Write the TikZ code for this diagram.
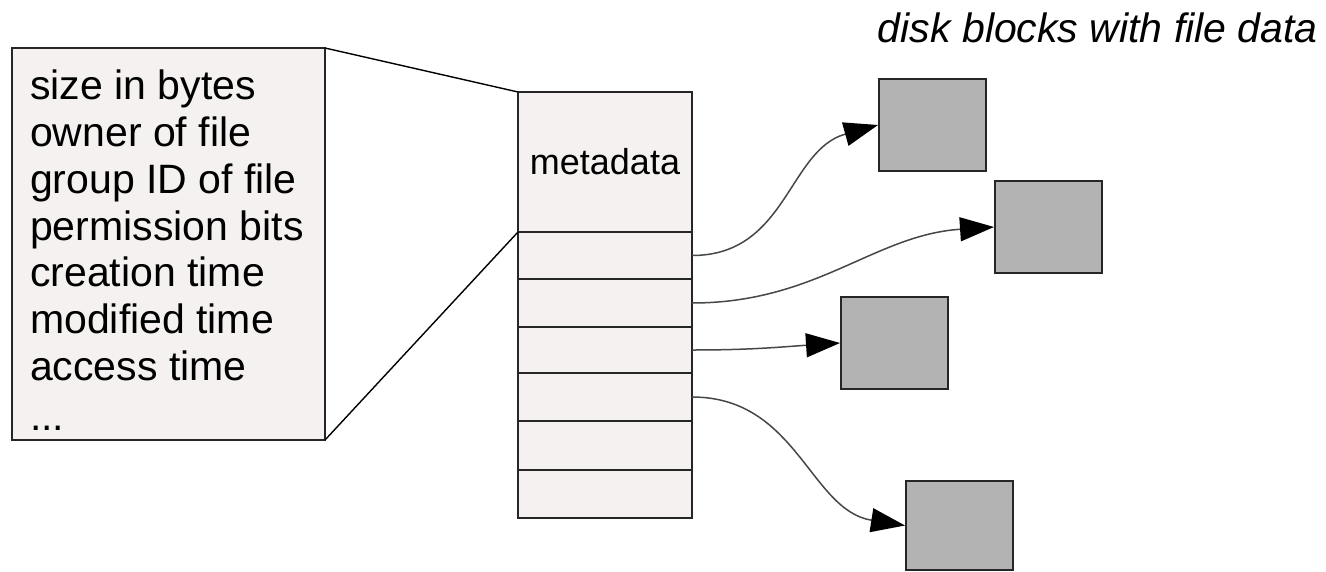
\documentclass[tikz,border=0pt]{standalone}
\usepackage{fontspec}
\setmainfont{Liberation Sans}
\usetikzlibrary{arrows.meta}
\definecolor{paper}{HTML}{F4F1F0}
\definecolor{blockgray}{HTML}{B3B3B3}
\definecolor{edge}{HTML}{262626}
\begin{document}
\begin{tikzpicture}[x=1pt,y=-1pt,
  infobox/.style={draw=edge, line width=2pt, fill=paper, inner sep=0pt, outer sep=0pt, anchor=north west},
  cellbg/.style={fill=paper, minimum width=174pt, inner sep=0pt, outer sep=0pt, anchor=north west},
  cell/.style={draw=edge, line width=2pt, minimum width=174pt, minimum height=48pt, inner sep=0pt, outer sep=0pt, anchor=north west},
  block/.style={draw=edge, line width=2pt, fill=blockgray, minimum width=107pt, minimum height=92pt, inner sep=0pt, anchor=north west},
  ptr/.style={draw=black!72, line width=1.5pt, -{Triangle[length=34pt,width=24pt,color=black]}},
  link/.style={draw=black, line width=1.4pt}]
\useasboundingbox (0,0) rectangle (1326,571);
% file attribute box
\node[infobox, minimum width=313pt, minimum height=392pt] (info) at (12,48) {};
\node[anchor=north west, inner sep=0pt, align=left, font=\fontsize{41}{46.7}\selectfont] (infotext) at (30,70)
  {size in bytes\\owner of file\\group ID of file\\permission bits\\creation time\\modified time\\access time\\[4pt]...};
% inode
\node[cellbg, minimum height=426pt] (inodebg) at (518,92) {};
\node[cell, minimum height=140pt] (meta) at (518,92) {};
\node[anchor=base, inner sep=0pt, font=\fontsize{36}{40}\selectfont] (metatext) at (605,174) {metadata};
\node[cell, minimum height=47pt] (s1) at (meta.south west) {};
\node[cell, minimum height=48pt] (s2) at (s1.south west) {};
\node[cell, minimum height=46pt] (s3) at (s2.south west) {};
\node[cell, minimum height=48pt] (s4) at (s3.south west) {};
\node[cell, minimum height=49pt] (s5) at (s4.south west) {};
\node[cell, minimum height=48pt] (s6) at (s5.south west) {};
\draw[link] (info.north east) -- (meta.north west);
\draw[link] (info.south east) -- (meta.south west);
% data blocks
\node[anchor=base east, inner sep=0pt, font=\fontsize{41}{48}\selectfont\itshape] (title) at (1318,42) {disk blocks with file data};
\node[block] (b1) at (878,78) {};
\node[block] (b2) at (994,180) {};
\node[block] (b3) at (840,296) {};
\node[block, minimum height=89pt] (b4) at (905,480) {};
% pointers
\draw[ptr] (s1.east) .. controls +(95,0) and +(-90,25) .. (b1.west);
\draw[ptr] (s2.east) .. controls +(125,0) and +(-120,8) .. (b2.west);
\draw[ptr] (s3.east) .. controls +(60,0) and +(-60,4) .. (b3.west);
\draw[ptr] (s4.east) .. controls +(105,0) and +(-95,-15) .. (b4.west);
\end{tikzpicture}
\end{document}
